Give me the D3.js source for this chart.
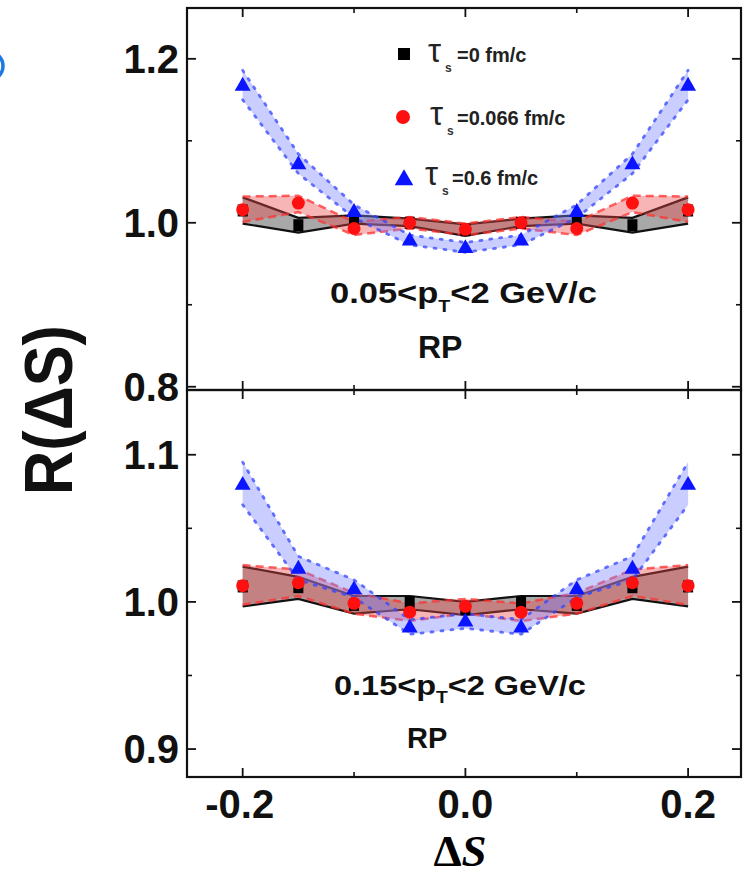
<!DOCTYPE html>
<html><head><meta charset="utf-8">
<script src="https://cdn.jsdelivr.net/npm/d3@7"></script>
<style>
html,body{margin:0;padding:0;background:#fff;}
svg{display:block;font-family:"Liberation Sans",Arial,sans-serif;}
</style></head>
<body>
<svg id="c" width="746" height="876"></svg>
<script>
// ---- data ----
const xs = [-0.2,-0.15,-0.1,-0.05,0,0.05,0.1,0.15,0.2];
// top panel: 0.05<pT<2 GeV/c
const topTau0    = [1.015,0.997,1.004,1.000,0.991,1.000,1.004,0.997,1.015];
const topTau0Lo  = [0.999,0.988,0.999,0.996,0.984,0.996,0.999,0.988,0.999];
const topTau0Hi  = [1.031,1.006,1.009,1.005,0.998,1.005,1.009,1.006,1.031];
const topTau066   = [1.016,1.024,0.993,1.000,0.992,1.000,0.993,1.024,1.016];
const topTau066Lo = [1.001,1.013,0.985,0.993,0.985,0.993,0.985,1.013,1.001];
const topTau066Hi = [1.032,1.033,1.001,1.007,0.999,1.007,1.001,1.033,1.032];
const topTau06   = [1.168,1.072,1.014,0.979,0.970,0.979,1.014,1.072,1.168];
const topTau06Lo = [1.150,1.060,1.006,0.973,0.964,0.973,1.006,1.060,1.150];
const topTau06Hi = [1.186,1.084,1.022,0.985,0.976,0.985,1.022,1.084,1.186];
// bottom panel: 0.15<pT<2 GeV/c
const botTau0    = [1.0105,1.010,0.998,1.000,0.995,1.000,0.998,1.010,1.0105];
const botTau0Lo  = [0.997,1.002,0.992,0.995,0.991,0.995,0.992,1.002,0.997];
const botTau0Hi  = [1.024,1.017,1.004,1.004,1.000,1.004,1.004,1.017,1.024];
const botTau066   = [1.011,1.013,0.999,0.993,0.997,0.993,0.999,1.013,1.011];
const botTau066Lo = [0.998,1.004,0.992,0.987,0.992,0.987,0.992,1.004,0.998];
const botTau066Hi = [1.025,1.022,1.006,0.999,1.002,0.999,1.006,1.022,1.025];
const botTau06   = [1.080,1.023,1.009,0.983,0.987,0.983,1.009,1.023,1.080];
const botTau06Lo = [1.066,1.015,1.003,0.978,0.982,0.978,1.003,1.015,1.066];
const botTau06Hi = [1.095,1.031,1.015,0.988,0.992,0.988,1.015,1.031,1.095];

const xTickLabels = ["-0.2","0.0","0.2"];
const xTickValues = [-0.2,0,0.2];
const xMinor = [-0.1,0.1];
const topYTicks = [1.2,1.0,0.8], topYLabels = ["1.2","1.0","0.8"], topYMinor = [1.1,0.9];
const botYTicks = [1.1,1.0,0.9], botYLabels = ["1.1","1.0","0.9"], botYMinor = [1.05,0.95];
const legendLabels = ["=0 fm/c","=0.066 fm/c","=0.6 fm/c"];
const pTLabels = [["0.05<p","T","<2 GeV/c"],["0.15<p","T","<2 GeV/c"]];

// ---- layout ----
const svg = d3.select("#c");
const L = 187, R = 741;
const x = d3.scaleLinear().domain([-0.25,0.2475]).range([L,R]);
const yTop = d3.scaleLinear().domain([0.796,1.262]).range([390,8]);
const yBot = d3.scaleLinear().domain([0.881,1.144]).range([777,390]);

const panels = [
  {y:yTop, top:8, bot:390, id:"a",
   s0:[topTau0,topTau0Lo,topTau0Hi], s1:[topTau066,topTau066Lo,topTau066Hi], s2:[topTau06,topTau06Lo,topTau06Hi],
   ticks:topYTicks, labels:topYLabels, minor:topYMinor},
  {y:yBot, top:390, bot:777, id:"b",
   s0:[botTau0,botTau0Lo,botTau0Hi], s1:[botTau066,botTau066Lo,botTau066Hi], s2:[botTau06,botTau06Lo,botTau06Hi],
   ticks:botYTicks, labels:botYLabels, minor:botYMinor}
];

const defs = svg.append("defs");

panels.forEach(p => {
  defs.append("clipPath").attr("id","clip"+p.id).append("rect")
    .attr("x",L).attr("y",p.top).attr("width",R-L).attr("height",p.bot-p.top);
  const g = svg.append("g").attr("clip-path","url(#clip"+p.id+")");
  const area = (lo,hi) => d3.area().x((d,i)=>x(xs[i])).y0((d,i)=>p.y(lo[i])).y1((d,i)=>p.y(hi[i]))(xs);
  const line = arr => d3.line().x((d,i)=>x(xs[i])).y((d,i)=>p.y(arr[i]))(xs);
  // black band
  g.append("path").attr("d",area(p.s0[1],p.s0[2])).attr("fill","#a8a8a8");
  [p.s0[1],p.s0[2]].forEach(a=>g.append("path").attr("d",line(a)).attr("fill","none").attr("stroke","#111").attr("stroke-width",2.2));
  // red band
  g.append("path").attr("d",area(p.s1[1],p.s1[2])).attr("fill","rgba(235,70,70,0.4)");
  [p.s1[1],p.s1[2]].forEach(a=>g.append("path").attr("d",line(a)).attr("fill","none").attr("stroke","#ff3030").attr("stroke-width",2.5).attr("stroke-dasharray","8,5").attr("opacity",0.75));
  // blue band
  g.append("path").attr("d",area(p.s2[1],p.s2[2])).attr("fill","rgba(120,130,255,0.4)");
  [p.s2[1],p.s2[2]].forEach(a=>g.append("path").attr("d",line(a)).attr("fill","none").attr("stroke","#3344ff").attr("stroke-width",2.8).attr("stroke-dasharray","2,8").attr("stroke-linecap","round").attr("opacity",0.75));
  // markers
  g.selectAll(null).data(xs).enter().append("rect")
    .attr("x",(d,i)=>x(d)-5).attr("y",(d,i)=>p.y(p.s0[0][i])-6).attr("width",10).attr("height",12).attr("fill","#000");
  g.selectAll(null).data(xs).enter().append("circle")
    .attr("cx",d=>x(d)).attr("cy",(d,i)=>p.y(p.s1[0][i])).attr("r",6.5).attr("fill","#ff1010");
  const tri = d3.symbol().type(d3.symbolTriangle).size(110);
  g.selectAll(null).data(xs).enter().append("path")
    .attr("d",tri).attr("transform",(d,i)=>`translate(${x(d)},${p.y(p.s2[0][i])+1})`).attr("fill","#0a14ff");

  // frame + ticks
  const fr = svg.append("g");
  fr.append("rect").attr("x",L).attr("y",p.top).attr("width",R-L).attr("height",p.bot-p.top)
    .attr("fill","none").attr("stroke","#111").attr("stroke-width",2.2);
  xTickValues.forEach(v=>{
    fr.append("line").attr("x1",x(v)).attr("x2",x(v)).attr("y1",p.bot).attr("y2",p.bot-9).attr("stroke","#111").attr("stroke-width",1.8);
    fr.append("line").attr("x1",x(v)).attr("x2",x(v)).attr("y1",p.top).attr("y2",p.top+9).attr("stroke","#111").attr("stroke-width",1.8);
  });
  xMinor.forEach(v=>{
    fr.append("line").attr("x1",x(v)).attr("x2",x(v)).attr("y1",p.bot).attr("y2",p.bot-5).attr("stroke","#111").attr("stroke-width",1.6);
    fr.append("line").attr("x1",x(v)).attr("x2",x(v)).attr("y1",p.top).attr("y2",p.top+5).attr("stroke","#111").attr("stroke-width",1.6);
  });
  p.ticks.forEach((v,i)=>{
    fr.append("line").attr("x1",L).attr("x2",L+9).attr("y1",p.y(v)).attr("y2",p.y(v)).attr("stroke","#111").attr("stroke-width",1.8);
    fr.append("line").attr("x1",R).attr("x2",R-9).attr("y1",p.y(v)).attr("y2",p.y(v)).attr("stroke","#111").attr("stroke-width",1.8);
    svg.append("text").attr("x",179).attr("y",p.y(v)+14).attr("text-anchor","end")
      .attr("font-size",40).attr("font-weight","bold").attr("fill","#111").text(p.labels[i]);
  });
  p.minor.forEach(v=>{
    fr.append("line").attr("x1",L).attr("x2",L+5).attr("y1",p.y(v)).attr("y2",p.y(v)).attr("stroke","#111").attr("stroke-width",1.6);
    fr.append("line").attr("x1",R).attr("x2",R-5).attr("y1",p.y(v)).attr("y2",p.y(v)).attr("stroke","#111").attr("stroke-width",1.6);
  });
});

// x tick labels
xTickValues.forEach((v,i)=>{
  svg.append("text").attr("x",x(v)-(v<0?3:0)).attr("y",818).attr("text-anchor","middle")
    .attr("font-size",40).attr("font-weight","bold").attr("fill","#111").text(xTickLabels[i]);
});

// x title
const xt = svg.append("text").attr("x",460).attr("y",866).attr("text-anchor","middle")
  .attr("font-family","'Liberation Serif','DejaVu Serif',serif").attr("font-weight","bold").attr("font-size",45).attr("fill","#000");
xt.append("tspan").text("Δ");
xt.append("tspan").attr("font-style","italic").text("S");

// y title
svg.append("text").attr("transform","translate(72,410) rotate(-90)").attr("text-anchor","middle")
  .attr("font-size",68).attr("font-weight","bold").attr("fill","#111")
  .attr("textLength",170).attr("lengthAdjust","spacingAndGlyphs").text("R(ΔS)");

// pT annotations
function stretchText(x0, y0, width, fs, parts, subFs){
  const t = svg.append("text").attr("x",0).attr("y",0).attr("font-size",fs).attr("font-weight","bold").attr("fill","#111");
  t.append("tspan").text(parts[0]);
  t.append("tspan").attr("font-size",subFs).attr("dy",fs*0.3).text(parts[1]);
  t.append("tspan").attr("dy",-fs*0.3).text(parts[2]);
  const w = t.node().getComputedTextLength();
  t.attr("transform",`translate(${x0},${y0}) scale(${width/w},1)`);
}
stretchText(330,303,267,30,pTLabels[0],17);
stretchText(334,695,252,27,pTLabels[1],16);
svg.append("text").attr("x",418).attr("y",358).attr("font-size",32).attr("font-weight","bold").attr("fill","#111").text("RP");
svg.append("text").attr("x",407).attr("y",748).attr("font-size",29).attr("font-weight","bold").attr("fill","#111").text("RP");

// legend
const legY = [62,125,185];
const legTauX = [428,430,425];
const legEqX = [457,457,452];
svg.append("rect").attr("x",398).attr("y",48).attr("width",12).attr("height",12).attr("fill","#000");
svg.append("circle").attr("cx",403).attr("cy",117).attr("r",7).attr("fill","#ff1010");
svg.append("path").attr("d",d3.symbol().type(d3.symbolTriangle).size(150)).attr("transform","translate(404,180)").attr("fill","#0a14ff");
legendLabels.forEach((lab,i)=>{
  svg.append("text").attr("x",legTauX[i]).attr("y",legY[i]).attr("font-size",33).attr("fill","#222").text("τ");
  svg.append("text").attr("x",legTauX[i]+17).attr("y",legY[i]+10).attr("font-size",12).attr("font-weight","bold").attr("fill","#333").text("s");
  svg.append("text").attr("x",legEqX[i]).attr("y",legY[i]).attr("font-size",20).attr("font-weight","bold").attr("fill","#222").text(lab);
});

// cropped blue mark at top-left
svg.append("circle").attr("cx",-11).attr("cy",66).attr("r",14).attr("fill","none").attr("stroke","#1f7ae0").attr("stroke-width",3.5);
</script>
</body></html>
